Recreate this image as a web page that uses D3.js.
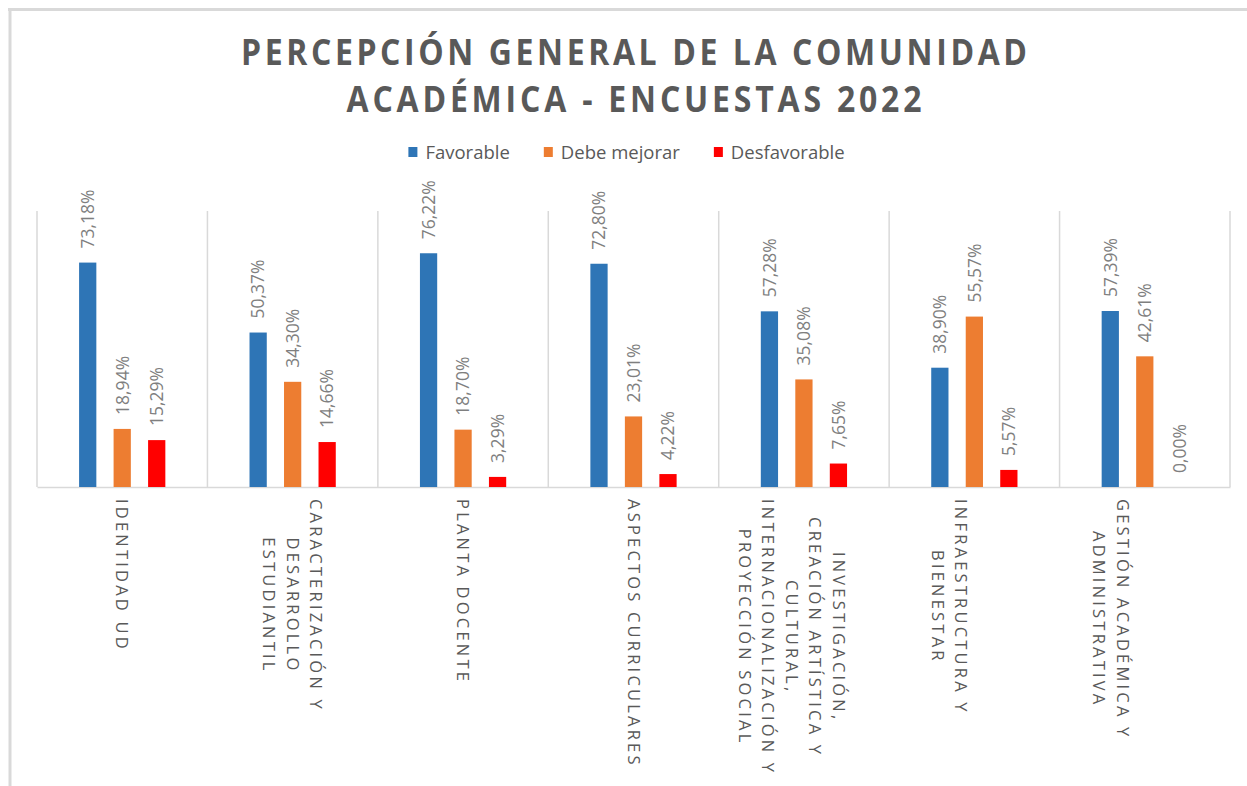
<!DOCTYPE html>
<html>
<head>
<meta charset="utf-8">
<script src="https://cdn.jsdelivr.net/npm/d3@7"></script>
<style>
  html, body { margin: 0; padding: 0; background: #fff; }
  svg { display: block; }
</style>
</head>
<body>
<svg id="chart" width="1247" height="786"></svg>
<script>
// ---- DATA ----
const titleLines = ["PERCEPCIÓN GENERAL DE LA COMUNIDAD", "ACADÉMICA - ENCUESTAS 2022"];
const categories = [
  "IDENTIDAD UD",
  "CARACTERIZACIÓN Y\nDESARROLLO\nESTUDIANTIL",
  "PLANTA DOCENTE",
  "ASPECTOS CURRICULARES",
  "INVESTIGACIÓN,\nCREACIÓN ARTÍSTICA Y\nCULTURAL,\nINTERNACIONALIZACIÓN Y\nPROYECCIÓN SOCIAL",
  "INFRAESTRUCTURA Y\nBIENESTAR",
  "GESTIÓN ACADÉMICA Y\nADMINISTRATIVA"
];
const seriesNames = ["Favorable", "Debe mejorar", "Desfavorable"];
const favorable    = [73.18, 50.37, 76.22, 72.80, 57.28, 38.90, 57.39];
const debeMejorar  = [18.94, 34.30, 18.70, 23.01, 35.08, 55.57, 42.61];
const desfavorable = [15.29, 14.66, 3.29, 4.22, 7.65, 5.57, 0.00];
const seriesValues = [favorable, debeMejorar, desfavorable];
const yMax = 90;

// ---- LAYOUT / STYLE ----
const colors = ["#2E75B6", "#ED7D31", "#FF0000"];
const labelShift = [0, 0, 0, 0, -12, -25, -34];
const plot = { left: 37, right: 1230, top: 211, bottom: 487 };

const svg = d3.select("#chart");

// frame lines
svg.append("line").attr("x1", 8).attr("x2", 1247).attr("y1", 9.5).attr("y2", 9.5)
  .attr("stroke", "#d9d9d9").attr("stroke-width", 3);
svg.append("line").attr("x1", 10).attr("x2", 10).attr("y1", 8).attr("y2", 786)
  .attr("stroke", "#d9d9d9").attr("stroke-width", 3);

// title
const titleY = [65, 112];
const titleW = [786, 575];
titleLines.forEach((t, i) => {
  svg.append("g").attr("transform", `translate(634,${titleY[i]}) scale(1,1.1)`)
    .append("text")
    .attr("x", 0).attr("y", 0)
    .attr("text-anchor", "middle")
    .attr("font-family", "Open Sans, sans-serif")
    .attr("font-weight", "bold")
    .attr("font-size", 32)
    .attr("fill", "#595959")
    .attr("textLength", titleW[i])
    .attr("lengthAdjust", "spacing")
    .text(t);
});

// legend
const legend = svg.append("g");
let lx = 0;
seriesNames.forEach((name, i) => {
  const g = legend.append("g").attr("transform", `translate(${lx},0)`);
  g.append("rect").attr("x", 0).attr("y", -12).attr("width", 9).attr("height", 10).attr("fill", colors[i]);
  const t = g.append("text").attr("x", 17).attr("y", 0)
    .attr("font-family", "Open Sans, sans-serif").attr("font-size", 18.5)
    .attr("fill", "#595959").text(name);
  const w = t.node().getComputedTextLength();
  lx += 17 + w + 34;
});
const legW = lx - 34;
legend.attr("transform", `translate(${626.5 - legW / 2},159)`);

// scales
const x0 = d3.scaleBand().domain(categories.map((c, i) => i)).range([plot.left, plot.right]).padding(0);
const groupW = 103.5;
const x1 = d3.scaleBand().domain(seriesNames.map((s, i) => i))
  .range([0, groupW]).paddingInner(0.5).paddingOuter(0.25);
const y = d3.scaleLinear().domain([0, yMax]).range([plot.bottom, plot.top]);

// separators
const seps = d3.range(categories.length + 1).map(i => i === categories.length ? plot.right : x0(i));
svg.append("g").selectAll("line").data(seps).join("line")
  .attr("x1", d => d).attr("x2", d => d)
  .attr("y1", plot.top).attr("y2", plot.bottom)
  .attr("stroke", "#d9d9d9").attr("stroke-width", 1.5);

// baseline axis
const xAxis = d3.axisBottom(x0).tickSize(0).tickFormat("");
const axG = svg.append("g").attr("transform", `translate(0,${plot.bottom})`).call(xAxis);
axG.select(".domain").attr("stroke", "#d9d9d9").attr("stroke-width", 1.5);

// bars
const groups = svg.append("g").selectAll("g").data(categories).join("g")
  .attr("transform", (d, i) => `translate(${x0(i) + x0.bandwidth() / 2 - groupW / 2},0)`);

groups.each(function (c, ci) {
  const g = d3.select(this);
  seriesValues.forEach((vals, si) => {
    const v = vals[ci];
    g.append("rect")
      .attr("x", x1(si)).attr("width", x1.bandwidth())
      .attr("y", y(v)).attr("height", y(0) - y(v))
      .attr("fill", colors[si]);
    const cx = x1(si) + x1.bandwidth() / 2;
    g.append("text")
      .attr("transform", `translate(${cx},${y(v) - 14}) rotate(-90)`)
      .attr("dy", "0.36em")
      .attr("font-family", "Open Sans, sans-serif")
      .attr("font-size", 17.5)
      .attr("fill", "#7f7f7f")
      .text(v.toFixed(2).replace(".", ",") + "%");
  });
});

// category labels
const lh = 23.5;
categories.forEach((c, ci) => {
  const lines = c.split("\n");
  const cx = x0(ci) + x0.bandwidth() / 2 + labelShift[ci];
  const texts = lines.map((ln, li) => {
    const xPos = cx + ((lines.length - 1) / 2 - li) * lh;
    return svg.append("text")
      .attr("font-family", "Open Sans, sans-serif")
      .attr("font-size", 16.5)
      .attr("letter-spacing", "3.2px")
      .attr("fill", "#595959")
      .attr("text-anchor", "middle")
      .attr("dy", "0.36em")
      .datum(xPos)
      .text(ln);
  });
  const maxLen = d3.max(texts, t => t.node().getComputedTextLength());
  const cy = 499 + maxLen / 2;
  texts.forEach(t => {
    t.attr("transform", `translate(${t.datum()},${cy}) rotate(90)`);
  });
});
</script>
</body>
</html>
